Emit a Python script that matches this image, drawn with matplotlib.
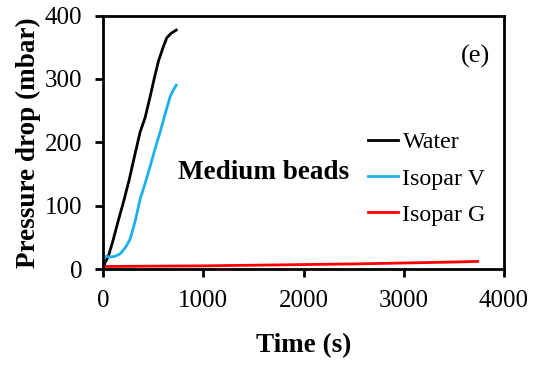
import matplotlib
matplotlib.use('Agg')
import matplotlib.pyplot as plt

plt.rcParams['font.family'] = 'Liberation Serif'

# Water
t_water = [0, 20, 53, 100, 150, 203, 260, 310, 370, 420, 470, 510, 553, 600, 637, 680, 730]
p_water = [0, 10, 20, 45, 75, 105, 140, 175, 216, 239, 272, 300, 328, 350, 365, 372, 377]

# Isopar V
t_iso_v = [0, 10, 25, 70, 120, 170, 220, 270, 320, 370, 420, 470, 520, 570, 620, 670, 700, 730]
p_iso_v = [0, 15, 20, 19, 20, 24, 33, 47, 75, 110, 135, 162, 190, 216, 245, 272, 282, 290]

# Isopar G
t_iso_g = [0, 50, 500, 1000, 1500, 2000, 2500, 3000, 3500, 3737]
p_iso_g = [4, 4, 4.5, 5, 6, 7, 8, 9.5, 11, 12]

fig, ax = plt.subplots(figsize=(5.41, 3.65), dpi=100)
fig.subplots_adjust(left=0.1904, right=0.9316, top=0.9575, bottom=0.263)

ax.plot(t_water, p_water, color='black', lw=2, label='Water')
ax.plot(t_iso_v, p_iso_v, color='#1ab0e8', lw=2, label='Isopar V')
ax.plot(t_iso_g, p_iso_g, color='#ff0000', lw=2, label='Isopar G')

ax.set_xlim(0, 4000)
ax.set_ylim(0, 400)
ax.set_xticks([0, 1000, 2000, 3000, 4000])
ax.set_yticks([0, 100, 200, 300, 400])
ax.tick_params(direction='out', width=2, length=6, labelsize=18, pad=9)
for s in ax.spines.values():
    s.set_linewidth(2)

ax.set_xlabel('Time (s)', fontsize=19.5, fontweight='bold', labelpad=15)
ax.set_ylabel('Pressure drop (mbar)', fontsize=19.5, fontweight='bold', labelpad=3)

ax.text(3720, 335, '(e)', fontsize=19, ha='center', va='center')
ax.text(1605, 153, 'Medium beads', fontsize=19.5, fontweight='bold', ha='center', va='center')

ax.legend(loc='center left', bbox_to_anchor=(0.66, 0.356), frameon=False, fontsize=17.3,
          handlelength=1.25, handletextpad=0.2, labelspacing=0.6,
          borderaxespad=0, borderpad=0)

fig.savefig('out.png', dpi=100)
